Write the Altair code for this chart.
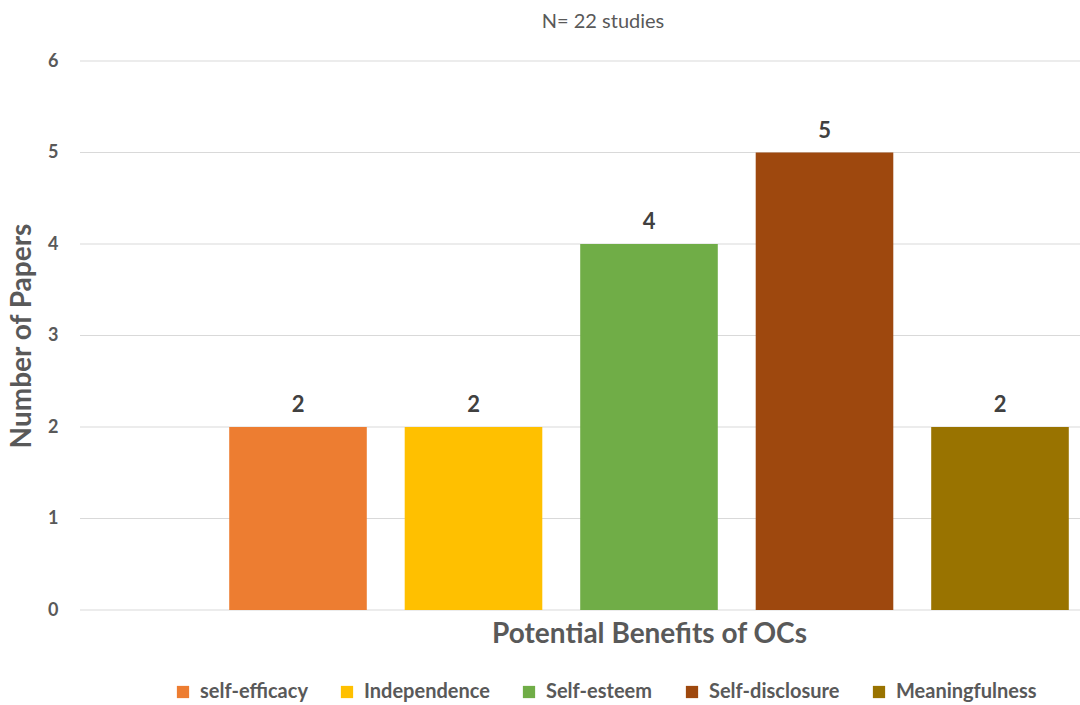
import altair as alt
import pandas as pd

categories = ["self-efficacy", "Independence", "Self-esteem", "Self-disclosure", "Meaningfulness"]
papers = [2, 2, 4, 5, 2]
colors = ["#ED7D31", "#FFC000", "#70AD47", "#9E480E", "#997300"]
y_ticks = [0, 1, 2, 3, 4, 5, 6]

df = pd.DataFrame({"benefit": categories, "papers": papers})
grid_df = pd.DataFrame({"tick": y_ticks})

FONT = "Lato"
GREY = "#595959"

x = alt.X(
    "benefit:N",
    sort=categories,
    scale=alt.Scale(range=[130.25, 1007.75], paddingInner=0.216, paddingOuter=0.108),
    axis=alt.Axis(
        title="Potential Benefits of OCs", labels=False, ticks=False, domain=False, grid=False,
        titleFont=FONT, titleFontSize=28, titleFontWeight="bold", titleColor=GREY,
        titleX=569, titleY=24, titleBaseline="middle", titleAlign="center",
    ),
)
yscale = alt.Scale(domain=[0, 6], nice=False)
yaxis = alt.Axis(
    title="Number of Papers", values=y_ticks, labelOverlap=False, format="d",
    domain=False, ticks=False, grid=False, labelPadding=22,
    labelFont=FONT, labelFontSize=18, labelFontWeight="bold", labelColor=GREY,
    titleFont=FONT, titleFontSize=28, titleFontWeight="bold", titleColor=GREY,
    titleX=-58, titleY=274.5, titleAngle=270, titleBaseline="middle", titleAlign="center",
)

grid = alt.Chart(grid_df).mark_rule(color="#D9D9D9", strokeWidth=1).encode(
    y=alt.Y("tick:Q", scale=yscale, axis=yaxis, title="Number of Papers"),
    x=alt.value(0),
    x2=alt.value(1000),
)

bars = alt.Chart(df).mark_bar().encode(
    x=x,
    y=alt.Y("papers:Q", scale=yscale, title="Number of Papers"),
    color=alt.Color(
        "benefit:N",
        sort=categories,
        scale=alt.Scale(domain=categories, range=colors),
        legend=alt.Legend(
            title=None, orient="none", legendX=93, legendY=621, direction="horizontal",
            columns=5, symbolType="square", symbolSize=150, symbolStrokeWidth=0,
            labelFont=FONT, labelFontSize=20, labelFontWeight="bold", labelColor=GREY,
            labelOffset=7, columnPadding=29, symbolOpacity=1,
        ),
    ),
)

labels = alt.Chart(df).mark_text(
    baseline="bottom", dy=-10, font=FONT, fontSize=22, fontWeight="bold", color="#404040"
).encode(x=alt.X("benefit:N", sort=categories), y="papers:Q", text="papers:Q")

chart = alt.layer(grid, bars, labels).properties(
    width=1000,
    height=549,
    padding={"left": 80, "top": 61, "right": 0, "bottom": 95},
    autosize=alt.AutoSizeParams(type="none"),
    title=alt.TitleParams(
        "N= 22 studies", anchor="middle", dx=23, font=FONT, fontSize=20,
        fontWeight="normal", color=GREY, offset=20,
    ),
).configure_view(stroke=None)

chart.save("out.html", embed_options={"renderer": "svg", "actions": False})
